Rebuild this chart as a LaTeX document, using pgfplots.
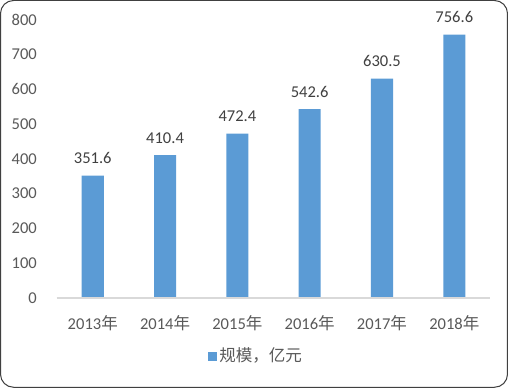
\documentclass[border=0pt]{standalone}
\usepackage{fontspec}
\setmainfont{Carlito}
\newfontfamily\cjk{Noto Sans CJK SC}
\usepackage{pgfplots}
\pgfplotsset{compat=1.18}
\definecolor{barblue}{HTML}{5B9BD5}
\definecolor{ticktext}{HTML}{595959}
\definecolor{lbltext}{HTML}{404040}
\definecolor{axline}{HTML}{D9D9D9}
\begin{document}
\fontsize{16.5pt}{19pt}\selectfont
\begin{tikzpicture}
\begin{axis}[
  at={(0,0)}, anchor=south west,
  scale only axis,
  width=433pt, height=278pt,
  xmin=-0.5, xmax=5.5,
  ymin=0, ymax=800,
  ytick={0,100,...,800},
  xtick=data,
  xticklabels={2013{\cjk 年},2014{\cjk 年},2015{\cjk 年},2016{\cjk 年},2017{\cjk 年},2018{\cjk 年}},
  axis line style={draw=none},
  axis x line*=bottom,
  axis y line*=left,
  major tick length=0pt,
  tick style={draw=none},
  /pgf/number format/assume math mode=true,
  yticklabel style={font=\fontsize{16.5pt}{19pt}\selectfont, text=ticktext, anchor=east, xshift=-14pt},
  xticklabel style={font=\fontsize{16.5pt}{19pt}\selectfont, text=ticktext, anchor=north, yshift=-12pt},
  ybar, bar width=22pt,
  nodes near coords,
  every node near coord/.append style={font=\fontsize{16.5pt}{19pt}\selectfont, text=lbltext, yshift=6pt, /pgf/number format/fixed, /pgf/number format/precision=1, /pgf/number format/fixed zerofill},
  legend style={draw=none, at={(0.46,-0.209)}, anchor=center, font=\fontsize{16.5pt}{19pt}\selectfont, text=ticktext, inner sep=0pt},
  legend image code/.code={\fill[barblue] (0pt,-4.5pt) rectangle (9pt,4.5pt);},
  clip=false,
]
\addplot[fill=barblue, draw=none] coordinates {(0,351.6) (1,410.4) (2,472.4) (3,542.6) (4,630.5) (5,756.6)};
\addlegendentry{\cjk 规模，亿元}
\draw[axline, line width=1.2pt] (axis cs:-0.5,0) -- (axis cs:5.5,0);
\end{axis}
\draw[black!75, line width=1pt, rounded corners=13pt] (-56pt,-89pt) rectangle (450pt,297pt);
\end{tikzpicture}
\end{document}
